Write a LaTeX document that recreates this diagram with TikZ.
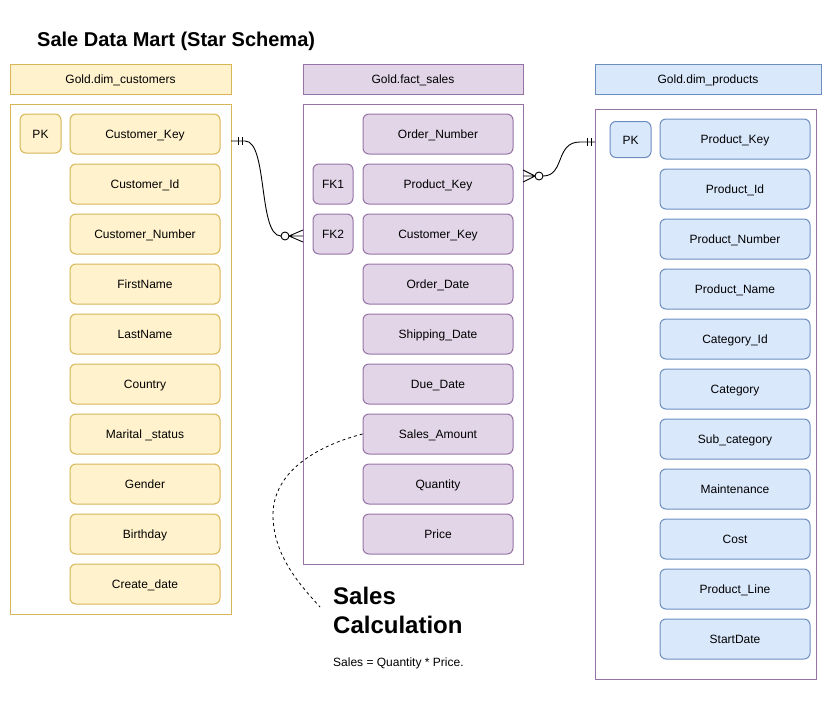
\documentclass[tikz,border=0pt]{standalone}
\usepackage{fontspec}
\setmainfont{Liberation Sans}
\definecolor{yfill}{HTML}{FFF2CC}
\definecolor{yline}{HTML}{D6B656}
\definecolor{pfill}{HTML}{E1D5E7}
\definecolor{pline}{HTML}{9673A6}
\definecolor{bfill}{HTML}{DAE8FC}
\definecolor{bline}{HTML}{6C8EBF}
\tikzset{
  campo/.style={draw, line width=1pt, rounded corners=6pt, minimum width=150pt,
    minimum height=40pt, inner sep=0pt, text height=9pt, text depth=0pt,
    font=\fontsize{12}{14}\selectfont},
  chiave/.style={draw, line width=1pt, rounded corners=6pt, minimum width=40pt,
    minimum height=39pt, inner sep=0pt, text height=9pt, text depth=0pt,
    font=\fontsize{12}{14}\selectfont},
  testata/.style={draw, line width=1pt, minimum height=30pt, inner sep=0pt,
    text height=9pt, text depth=0pt, font=\fontsize{12}{14}\selectfont},
  tabella/.style={draw, line width=1pt, inner sep=0pt},
  legame/.style={line width=0.9pt},
}
\begin{document}
\begin{tikzpicture}[x=1pt,y=-1pt]
        \useasboundingbox (0,0) rectangle (826,701);

        % titolo
        \node[anchor=base west, inner sep=0pt, font=\bfseries\fontsize{20}{24}\selectfont] (titolo) at (37,46) {Sale Data Mart (Star Schema)};

        % tabella clienti
        \node[testata, fill=yfill, draw=yline, minimum width=221pt] (custhead) at (120.5,79) {Gold.dim\_customers};
        \node[tabella, draw=yline, minimum width=221pt, minimum height=510pt] (custbox) at (120.5,359) {};
        \node[chiave, fill=yfill, draw=yline, minimum width=41pt] (custpk) at (40.5,133.5) {PK};
        \node[campo, fill=yfill, draw=yline] (custkey) at (145,134) {Customer\_Key};
        \node[campo, fill=yfill, draw=yline] (custid) at (145,184) {Customer\_Id};
        \node[campo, fill=yfill, draw=yline] (custnum) at (145,234) {Customer\_Number};
        \node[campo, fill=yfill, draw=yline] (first) at (145,284) {FirstName};
        \node[campo, fill=yfill, draw=yline] (last) at (145,334) {LastName};
        \node[campo, fill=yfill, draw=yline] (country) at (145,384) {Country};
        \node[campo, fill=yfill, draw=yline] (marital) at (145,434) {Marital \_status};
        \node[campo, fill=yfill, draw=yline] (gender) at (145,484) {Gender};
        \node[campo, fill=yfill, draw=yline] (birthday) at (145,534) {Birthday};
        \node[campo, fill=yfill, draw=yline] (create) at (145,584) {Create\_date};

        % tabella vendite
        \node[testata, fill=pfill, draw=pline, minimum width=220pt] (facthead) at (413,79) {Gold.fact\_sales};
        \node[tabella, draw=pline, minimum width=220pt, minimum height=460pt] (factbox) at (413,334) {};
        \node[chiave, fill=pfill, draw=pline, minimum height=40pt] (fk1) at (333,184) {FK1};
        \node[chiave, fill=pfill, draw=pline, minimum height=40pt] (fk2) at (333,234) {FK2};
        \node[campo, fill=pfill, draw=pline] (ordnum) at (438,134) {Order\_Number};
        \node[campo, fill=pfill, draw=pline] (factprod) at (438,184) {Product\_Key};
        \node[campo, fill=pfill, draw=pline] (factcust) at (438,234) {Customer\_Key};
        \node[campo, fill=pfill, draw=pline] (orddate) at (438,284) {Order\_Date};
        \node[campo, fill=pfill, draw=pline] (shipdate) at (438,334) {Shipping\_Date};
        \node[campo, fill=pfill, draw=pline] (duedate) at (438,384) {Due\_Date};
        \node[campo, fill=pfill, draw=pline] (amount) at (438,434) {Sales\_Amount};
        \node[campo, fill=pfill, draw=pline] (qty) at (438,484) {Quantity};
        \node[campo, fill=pfill, draw=pline] (price) at (438,534) {Price};

        % tabella prodotti
        \node[testata, fill=bfill, draw=bline, minimum width=226pt] (prodhead) at (708,79) {Gold.dim\_products};
        \node[tabella, draw=pline, minimum width=221pt, minimum height=570pt] (prodbox) at (705.5,394) {};
        \node[chiave, fill=bfill, draw=bline, minimum width=41pt, minimum height=36pt] (prodpk) at (630.5,139.5) {PK};
        \node[campo, fill=bfill, draw=bline] (prodkey) at (735,139) {Product\_Key};
        \node[campo, fill=bfill, draw=bline] (prodid) at (735,189) {Product\_Id};
        \node[campo, fill=bfill, draw=bline] (prodnum) at (735,239) {Product\_Number};
        \node[campo, fill=bfill, draw=bline] (prodname) at (735,289) {Product\_Name};
        \node[campo, fill=bfill, draw=bline] (catid) at (735,339) {Category\_Id};
        \node[campo, fill=bfill, draw=bline] (cat) at (735,389) {Category};
        \node[campo, fill=bfill, draw=bline] (subcat) at (735,439) {Sub\_category};
        \node[campo, fill=bfill, draw=bline] (maint) at (735,489) {Maintenance};
        \node[campo, fill=bfill, draw=bline] (cost) at (735,539) {Cost};
        \node[campo, fill=bfill, draw=bline] (line) at (735,589) {Product\_Line};
        \node[campo, fill=bfill, draw=bline] (start) at (735,639) {StartDate};

        % legami
        \coordinate (custend) at (231,141);
        \coordinate (factin) at (303,236);
        \coordinate (factout) at (523,176);
        \coordinate (prodend) at (595,142);

        \draw[legame] (custend) -- (245,141) .. controls (268,141) and (258,236) .. (281,236);
        \draw[legame] (238,137) -- (238,145) (242,137) -- (242,145);
        \draw[legame] (285,236) circle (4);
        \draw[legame] (289,236) -- (factin) (289,236) -- (303,230) (289,236) -- (303,242);

        \draw[legame] (factout) -- (535,176) (523,170) -- (535,176) (523,182) -- (535,176);
        \draw[legame] (539,176) circle (4);
        \draw[legame] (543,176) .. controls (565,176) and (555,142) .. (580,142) -- (prodend);
        \draw[legame] (587,138) -- (587,146) (591,138) -- (591,146);

        % nota calcolo
        \draw[dash pattern=on 3pt off 3pt, line width=0.8pt] (amount.west) .. controls (320,445) and (273,470) .. (273,515)
              .. controls (273,555) and (300,585) .. (320,607);
        \node[anchor=base west, inner sep=0pt, font=\bfseries\fontsize{24}{29}\selectfont] (calc1) at (333,604) {Sales};
        \node[anchor=base west, inner sep=0pt, font=\bfseries\fontsize{24}{29}\selectfont] (calc2) at (333,633) {Calculation};
        \node[anchor=base west, inner sep=0pt, font=\fontsize{12}{14}\selectfont] (formula) at (333,666) {Sales = Quantity * Price.};
    \end{tikzpicture}
\end{document}
